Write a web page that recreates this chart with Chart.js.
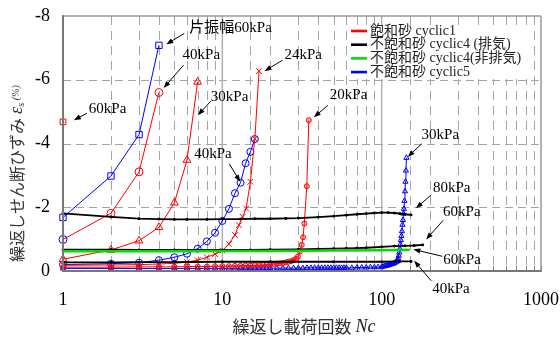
<!DOCTYPE html>
<html>
<head>
<meta charset="utf-8">
<script src="https://cdn.jsdelivr.net/npm/chart.js@4.4.0/dist/chart.umd.min.js"></script>
<style>
  html, body { margin: 0; padding: 0; background: #fff; }
  #wrap { width: 560px; height: 337px; }
</style>
</head>
<body>
<div id="wrap"><canvas id="strainChart" width="560" height="337"></canvas></div>
<script>
// Saturated sand, cyclic1 (one-sided amplitude 60 / 40 / 30 / 24 / 20 kPa)
const sat60Cycles = [1];
const sat60Strain = [-4.68];
const sat40Cycles = [1, 2, 3, 4];
const sat40Strain = [-0.99, -1.81, -3.11, -5.60];
const sat30Cycles = [1, 2, 3, 4, 5, 6, 7];
const sat30Strain = [-0.37, -0.66, -0.95, -1.37, -2.14, -3.48, -5.93];
const sat24Cycles = [1, 2, 3, 4, 5, 6, 7, 8, 9, 10, 11, 12, 12.7, 13.4, 14.1, 15, 16, 17];
const sat24Strain = [-0.18, -0.19, -0.20, -0.22, -0.24, -0.28, -0.34, -0.43, -0.53, -0.64,
                     -0.85, -1.13, -1.44, -1.70, -1.96, -2.80, -4.15, -6.27];
const sat20Cycles = [1, 2, 3, 4, 5, 6, 7, 8, 9, 10, 11, 12, 13, 14, 15, 16, 17, 18, 19, 20,
                     21, 22, 23, 24, 25, 26, 27, 28, 29, 29.8, 30.7, 31.5, 32.1, 32.7, 33.9, 34.9];
const sat20Strain = [-0.12, -0.12, -0.13, -0.13, -0.13, -0.14, -0.14, -0.14, -0.15, -0.15,
                     -0.15, -0.16, -0.16, -0.17, -0.17, -0.18, -0.18, -0.19, -0.20, -0.21,
                     -0.22, -0.23, -0.24, -0.25, -0.27, -0.29, -0.31, -0.34, -0.38, -0.45,
                     -0.61, -0.82, -1.06, -1.49, -2.66, -4.73];

// Unsaturated sand, cyclic4 drained (80 / 60 / 40 kPa)
const dr80Cycles = [1, 2, 3, 4, 5, 6, 8, 10, 13, 16, 20, 25, 30, 40, 50, 60, 70, 80, 90, 100,
                    110, 120, 130, 140, 153];
const dr80Strain = [-1.81, -1.70, -1.64, -1.63, -1.62, -1.62, -1.62, -1.63, -1.63, -1.64,
                    -1.64, -1.65, -1.66, -1.69, -1.72, -1.75, -1.78, -1.80, -1.82, -1.83,
                    -1.83, -1.82, -1.80, -1.78, -1.76];
const dr60Cycles = [1, 2, 3, 5, 7, 10, 15, 20, 30, 40, 50, 60, 70, 80, 100, 120, 140, 160, 181];
const dr60Strain = [-0.67, -0.67, -0.66, -0.66, -0.66, -0.66, -0.66, -0.67, -0.68, -0.69,
                    -0.70, -0.71, -0.72, -0.73, -0.76, -0.78, -0.79, -0.80, -0.82];
const dr40Cycles = [1, 2, 3, 5, 10, 20, 50, 100, 130, 153];
const dr40Strain = [-0.27, -0.27, -0.28, -0.28, -0.29, -0.29, -0.29, -0.29, -0.30, -0.30];

// Unsaturated sand, cyclic4 undrained (60 kPa)
const nd60Cycles = [1, 2, 3, 5, 10, 20, 50, 100, 130, 150];
const nd60Strain = [-0.62, -0.62, -0.62, -0.62, -0.63, -0.63, -0.64, -0.65, -0.66, -0.67];

// Unsaturated sand, cyclic5 (60 / 40 / 30 kPa)
const c5_60Cycles = [1, 2, 3, 4];
const c5_60Strain = [-1.68, -2.98, -4.28, -7.08];
const c5_40Cycles = [1, 2, 3, 4, 5, 6, 7, 8, 9, 10, 11, 12, 13, 14, 15, 16];
const c5_40Strain = [-0.20, -0.23, -0.26, -0.34, -0.43, -0.54, -0.70, -0.93, -1.20, -1.57,
                     -1.95, -2.44, -2.77, -3.38, -3.74, -4.14];
const c5_30Cycles = [1, 2, 3, 4, 5, 6, 7, 8, 9, 10, 11, 12, 13, 14, 15, 16, 17, 18, 19, 20,
                     22, 24, 26, 28, 30, 32, 34, 36, 38, 40, 42, 44, 46, 48, 50, 52, 54, 56, 58, 60,
                     65, 70, 75, 80, 85, 90, 95, 100,
                     102, 104, 106, 108, 110, 112, 114, 116, 118, 120, 122, 124,
                     125, 126, 127, 128, 129, 130, 131, 132, 133, 134, 135, 136, 137, 138, 139,
                     140, 141, 142, 143];
const c5_30Strain = [-0.08, -0.08, -0.08, -0.08, -0.08, -0.08, -0.08, -0.08, -0.08, -0.08,
                     -0.08, -0.08, -0.09, -0.09, -0.09, -0.09, -0.09, -0.09, -0.09, -0.09,
                     -0.09, -0.09, -0.09, -0.09, -0.09, -0.09, -0.10, -0.10, -0.10, -0.10,
                     -0.10, -0.10, -0.10, -0.10, -0.10, -0.10, -0.10, -0.10, -0.10, -0.10,
                     -0.10, -0.11, -0.11, -0.11, -0.12, -0.12, -0.12, -0.13,
                     -0.14, -0.15, -0.16, -0.17, -0.18, -0.19, -0.21, -0.22, -0.23, -0.25, -0.27, -0.30,
                     -0.30, -0.34, -0.40, -0.48, -0.58, -0.70, -0.83, -0.97, -1.10, -1.25, -1.45,
                     -1.60, -1.80, -1.95, -2.20, -2.50, -2.80, -3.15, -3.55];

// Axis settings
const xMin = 1, xMax = 1000;
const xLabelValues = [1, 10, 100, 1000];
const yMin = -8, yMax = 0, yStep = 2;

// Legend entries
const legendItems = [
  { text: '飽和砂 cyclic1', color: '#ff0000' },
  { text: '不飽和砂 cyclic4 (排気)', color: '#000000' },
  { text: '不飽和砂 cyclic4(非排気)', color: '#00e000' },
  { text: '不飽和砂 cyclic5', color: '#0000ff' }
];

// Arrow labels: tip in data units, tail and text as pixel offsets from the tip
const notes = [
  { text: '片振幅60kPa', n: 4.45, v: -7.11, tail: [18, -11], at: [23, -16] },
  { text: '40kPa', n: 4.28, v: -5.74, tail: [20, -23], at: [19, -33] },
  { text: '60kPa', n: 1.17, v: -4.73, tail: [13, -7], at: [15, -11] },
  { text: '30kPa', n: 7.02, v: -4.89, tail: [13, -14], at: [13, -18] },
  { text: '24kPa', n: 18.4, v: -6.27, tail: [18, -11], at: [20, -16] },
  { text: '20kPa', n: 37.5, v: -4.82, tail: [14, -12], at: [16, -22] },
  { text: '40kPa', n: 12.95, v: -2.80, tail: [-11, -18], at: [-46, -28] },
  { text: '30kPa', n: 145.5, v: -3.58, tail: [14, -13], at: [14, -22] },
  { text: '80kPa', n: 164, v: -1.97, tail: [15, -13], at: [17, -20] },
  { text: '60kPa', n: 190, v: -0.99, tail: [17, -19], at: [17, -27] },
  { text: '60kPa', n: 158, v: -0.68, tail: [29, 7], at: [30, 11] },
  { text: '40kPa', n: 160, v: -0.32, tail: [17, 20], at: [18, 28] }
];

const RED = '#ff0000', BLUE = '#0000ff', BLACK = '#000000', GREEN = '#00e000';
const NONE = 'rgba(0,0,0,0)';
const SERIF = '"Liberation Serif", "Noto Sans CJK JP", serif';

function pts(cycles, strain) {
  return cycles.map((n, i) => ({ x: n, y: strain[i] }));
}

function series(cycles, strain, color, style, radius, extra) {
  return Object.assign({
    data: pts(cycles, strain),
    showLine: true,
    borderColor: color,
    borderWidth: 1,
    pointStyle: style,
    pointRadius: radius,
    pointBorderColor: color,
    pointBackgroundColor: NONE,
    pointBorderWidth: 1,
    clip: false
  }, extra || {});
}

const datasets = [
  series(nd60Cycles, nd60Strain, GREEN, 'circle', 0, { borderWidth: 2.5 }),
  series(dr80Cycles, dr80Strain, BLACK, 'rect', 1.2, { borderWidth: 1.8, pointBackgroundColor: BLACK }),
  series(dr60Cycles, dr60Strain, BLACK, 'rect', 1.2, { borderWidth: 1.8, pointBackgroundColor: BLACK }),
  series(dr40Cycles, dr40Strain, BLACK, 'rect', 1.2, { borderWidth: 1.8, pointBackgroundColor: BLACK }),
  series(sat60Cycles, sat60Strain, RED, 'rect', 4),
  series(sat40Cycles, sat40Strain, RED, 'circle', 4, { pointBorderColor: [BLUE, RED, RED, RED] }),
  series(sat30Cycles, sat30Strain, RED, 'triangle', 4.5),
  series(sat24Cycles, sat24Strain, RED, 'crossRot', 4),
  series(sat20Cycles, sat20Strain, RED, 'circle', 2.5, { pointBackgroundColor: 'rgba(255,0,0,0.25)' }),
  series(c5_30Cycles, c5_30Strain, BLUE, 'triangle', 3),
  series(c5_40Cycles, c5_40Strain, BLUE, 'circle', 3.5),
  series(c5_60Cycles, c5_60Strain, BLUE, 'rect', 4.5)
];

function line(ctx, x0, y0, x1, y1) {
  ctx.beginPath(); ctx.moveTo(x0, y0); ctx.lineTo(x1, y1); ctx.stroke();
}

// dashed grid, solid decade lines and inner bottom ticks
const gridPlugin = {
  id: 'gridPlugin',
  beforeDraw(chart) {
    const ctx = chart.ctx;
    ctx.save();
    ctx.fillStyle = '#fff';
    ctx.fillRect(0, 0, chart.width, chart.height);
    ctx.restore();
  },
  beforeDatasetsDraw(chart) {
    const { ctx, chartArea: a, scales: { x, y } } = chart;
    const decades = xLabelValues;
    ctx.save();
    ctx.lineWidth = 1;
    ctx.strokeStyle = '#a4a4a4';
    ctx.setLineDash([8, 5]);
    y.ticks.forEach(t => {
      if (t.value === yMin || t.value === yMax) return;
      const py = Math.round(y.getPixelForValue(t.value)) + 0.5;
      line(ctx, a.left, py, a.right, py);
    });
    ctx.setLineDash([9, 6]);
    x.ticks.forEach(t => {
      if (decades.includes(t.value)) return;
      const px = Math.round(x.getPixelForValue(t.value)) + 0.5;
      line(ctx, px, a.top, px, a.bottom);
    });
    ctx.setLineDash([]);
    ctx.strokeStyle = '#b0b0b0';
    ctx.lineWidth = 1.5;
    decades.forEach(v => {
      if (v === xMin || v === xMax) return;
      const px = x.getPixelForValue(v);
      line(ctx, px, a.top, px, a.bottom);
    });
    ctx.strokeStyle = '#7a7a7a';
    ctx.lineWidth = 1;
    x.ticks.forEach(t => {
      const px = Math.round(x.getPixelForValue(t.value)) + 0.5;
      line(ctx, px, a.bottom, px, a.bottom - 5);
    });
    ctx.restore();
  }
};

function arrow(ctx, x0, y0, x1, y1) {
  const ang = Math.atan2(y1 - y0, x1 - x0);
  const head = 7, half = 2.6;
  const c = Math.cos(ang), s = Math.sin(ang);
  line(ctx, x0, y0, x1 - head * 0.7 * c, y1 - head * 0.7 * s);
  ctx.beginPath();
  ctx.moveTo(x1, y1);
  ctx.lineTo(x1 - head * c + half * s, y1 - head * s - half * c);
  ctx.lineTo(x1 - head * c - half * s, y1 - head * s + half * c);
  ctx.closePath();
  ctx.fill();
}

function drawRun(ctx, parts, x, y) {
  parts.forEach(p => {
    ctx.font = p.font;
    ctx.fillStyle = p.color || '#222';
    ctx.fillText(p.t, x, y + (p.dy || 0));
    x += ctx.measureText(p.t).width;
  });
}

// frame, legend, labels and axis titles
const overlayPlugin = {
  id: 'overlayPlugin',
  afterDatasetsDraw(chart) {
    const { ctx, chartArea: a, scales: { x, y } } = chart;
    ctx.save();

    // frame
    ctx.strokeStyle = '#999';
    ctx.lineWidth = 1.5;
    line(ctx, a.left, a.top, a.right, a.top);
    line(ctx, a.right, a.top, a.right, a.bottom);
    ctx.strokeStyle = '#777';
    ctx.lineWidth = 2;
    line(ctx, a.left, a.top - 0.75, a.left, a.bottom + 1);
    line(ctx, a.left - 1, a.bottom, a.right + 0.75, a.bottom);

    // legend
    const lx = 348, ly = 25, rowH = 13.7;
    ctx.fillStyle = '#fff';
    ctx.fillRect(lx, ly, 183, 54);
    ctx.font = '14px ' + SERIF;
    ctx.textBaseline = 'middle';
    legendItems.forEach((it, i) => {
      const cy = ly + 6 + i * rowH;
      ctx.strokeStyle = it.color;
      ctx.lineWidth = 2.6;
      line(ctx, lx + 3, cy, lx + 19, cy);
      ctx.fillStyle = '#222';
      ctx.fillText(it.text, lx + 22, cy);
    });

    // arrow labels
    ctx.fillStyle = '#000';
    ctx.strokeStyle = '#000';
    ctx.lineWidth = 1;
    ctx.font = '15px ' + SERIF;
    ctx.textAlign = 'left';
    notes.forEach(nt => {
      const px = x.getPixelForValue(nt.n), py = y.getPixelForValue(nt.v);
      arrow(ctx, px + nt.tail[0], py + nt.tail[1], px, py);
      ctx.fillText(nt.text, px + nt.at[0], py + nt.at[1]);
    });

    // y title (rotated)
    ctx.save();
    ctx.translate(17, 262);
    ctx.rotate(-Math.PI / 2);
    ctx.textBaseline = 'middle';
    drawRun(ctx, [
      { t: '繰返しせん断ひずみ', font: '16px "Noto Sans CJK JP"', color: '#333' },
      { t: ' ', font: '16px ' + SERIF },
      { t: 'ε', font: 'italic 18px ' + SERIF, color: '#333' },
      { t: 's', font: 'italic 11px ' + SERIF, color: '#333', dy: 4 },
      { t: ' (%)', font: 'italic 10px ' + SERIF, color: '#333', dy: -1 }
    ], 0, 0);
    ctx.restore();

    // x title
    ctx.textBaseline = 'middle';
    const xParts = [
      { t: '繰返し載荷回数 ', font: '17px "Noto Sans CJK JP"', color: '#333' },
      { t: 'Nc', font: 'italic 18px ' + SERIF, color: '#222' }
    ];
    let w = 0;
    xParts.forEach(p => { ctx.font = p.font; w += ctx.measureText(p.t).width; });
    drawRun(ctx, xParts, 304 - w / 2, 327);

    ctx.restore();
  }
};

new Chart(document.getElementById('strainChart'), {
  type: 'scatter',
  data: { datasets: datasets },
  options: {
    responsive: false,
    devicePixelRatio: 1,
    animation: false,
    layout: { padding: { left: 0, right: 19, top: 16, bottom: 0 } },
    plugins: { legend: { display: false }, tooltip: { enabled: false } },
    scales: {
      x: {
        type: 'logarithmic',
        min: xMin,
        max: xMax,
        grid: { display: false, drawTicks: false },
        border: { display: false },
        afterFit: s => { s.height = 66; s.paddingLeft = 0; s.paddingRight = 0; },
        ticks: {
          autoSkip: false,
          maxRotation: 0,
          padding: 18,
          color: '#000',
          font: { family: 'Liberation Serif', size: 18 },
          callback: v => xLabelValues.includes(v) ? String(v) : ''
        }
      },
      y: {
        type: 'linear',
        min: yMin,
        max: yMax,
        reverse: true,
        grid: { display: false, drawTicks: false },
        border: { display: false },
        afterFit: s => { s.width = 63; s.paddingTop = 0; s.paddingBottom = 0; },
        ticks: {
          stepSize: yStep,
          padding: 13,
          color: '#000',
          font: { family: 'Liberation Serif', size: 18 }
        }
      }
    }
  },
  plugins: [gridPlugin, overlayPlugin]
});
</script>
</body>
</html>
